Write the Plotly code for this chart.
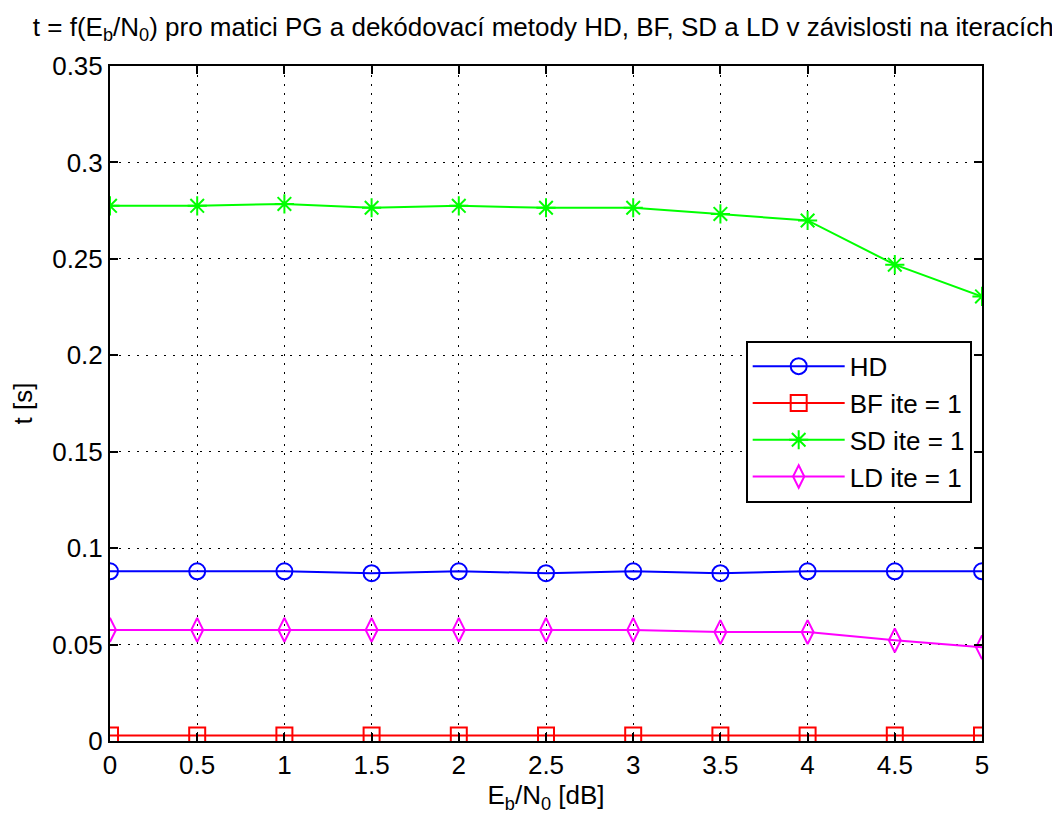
import plotly.graph_objects as go

ebn0 = [0, 0.5, 1, 1.5, 2, 2.5, 3, 3.5, 4, 4.5, 5]
hd = [0.088, 0.088, 0.088, 0.087, 0.088, 0.087, 0.088, 0.087, 0.088, 0.088, 0.088]
bf = [0.0028] * 11
sd = [0.2775, 0.2775, 0.2785, 0.2765, 0.2775, 0.2765, 0.2765, 0.2733, 0.2699, 0.2470, 0.2305]
ld = [0.0576, 0.0576, 0.0576, 0.0576, 0.0576, 0.0576, 0.0576, 0.0565, 0.0565, 0.0522, 0.0486]

x_ticks = [0, 0.5, 1, 1.5, 2, 2.5, 3, 3.5, 4, 4.5, 5]
y_ticks = [0, 0.05, 0.1, 0.15, 0.2, 0.25, 0.3, 0.35]

font = "Liberation Sans, Arial, sans-serif"
fs = 26

fig = go.Figure()
fig.add_trace(go.Scatter(x=ebn0, y=hd, name="HD", mode="lines+markers",
                         line=dict(color="#0000ff", width=2),
                         marker=dict(symbol="circle-open", size=16, color="#0000ff", line=dict(width=2))))
fig.add_trace(go.Scatter(x=ebn0, y=bf, name="BF ite = 1", mode="lines+markers",
                         line=dict(color="#ff0000", width=2),
                         marker=dict(symbol="square-open", size=16, color="#ff0000", line=dict(width=2))))
fig.add_trace(go.Scatter(x=ebn0, y=sd, name="SD ite = 1", mode="lines+markers",
                         line=dict(color="#00ff00", width=2),
                         marker=dict(symbol="asterisk-open", size=16, color="#00ff00", line=dict(width=2, color="#00ff00"))))
fig.add_trace(go.Scatter(x=ebn0, y=ld, name="LD ite = 1", mode="lines+markers",
                         line=dict(color="#ff00ff", width=2),
                         marker=dict(symbol="diamond-tall-open", size=17, color="#ff00ff", line=dict(width=2))))

axis_common = dict(showline=True, linecolor="black", linewidth=2, mirror="ticks",
                   ticks="inside", ticklen=8, tickwidth=1.5, tickcolor="black",
                   showgrid=True, gridcolor="black", gridwidth=1, griddash="2px,7px",
                   zeroline=False, tickfont=dict(family=font, size=fs, color="black"))

fig.update_xaxes(range=[0, 5], tickvals=x_ticks, ticktext=[f"{v:g}" for v in x_ticks],
                 title=dict(text="E<sub>b</sub>/N<sub>0</sub> [dB]", font=dict(family=font, size=fs, color="black"), standoff=4),
                 **axis_common)
fig.update_yaxes(range=[0, 0.35], tickvals=y_ticks, ticktext=[f"{v:g}" for v in y_ticks],
                 title=dict(text="t [s]", font=dict(family=font, size=fs, color="black"), standoff=12),
                 **axis_common)

fig.update_layout(
    width=1060, height=818,
    margin=dict(l=102, r=86, t=58, b=85),
    paper_bgcolor="white", plot_bgcolor="white",
    title=dict(text="t = f(E<sub>b</sub>/N<sub>0</sub>) pro matici PG a dekódovací metody HD, BF, SD a LD v závislosti na iteracích",
               font=dict(family=font, size=fs, color="black"), x=0.505, xanchor="center", y=0.988, yanchor="top"),
    legend=dict(x=0.729, y=0.593, xanchor="left", yanchor="top",
                bgcolor="white", bordercolor="black", borderwidth=2,
                font=dict(family=font, size=fs, color="black"),
                itemwidth=92, tracegroupgap=0),
    showlegend=True,
)

fig.write_html("out.html")
